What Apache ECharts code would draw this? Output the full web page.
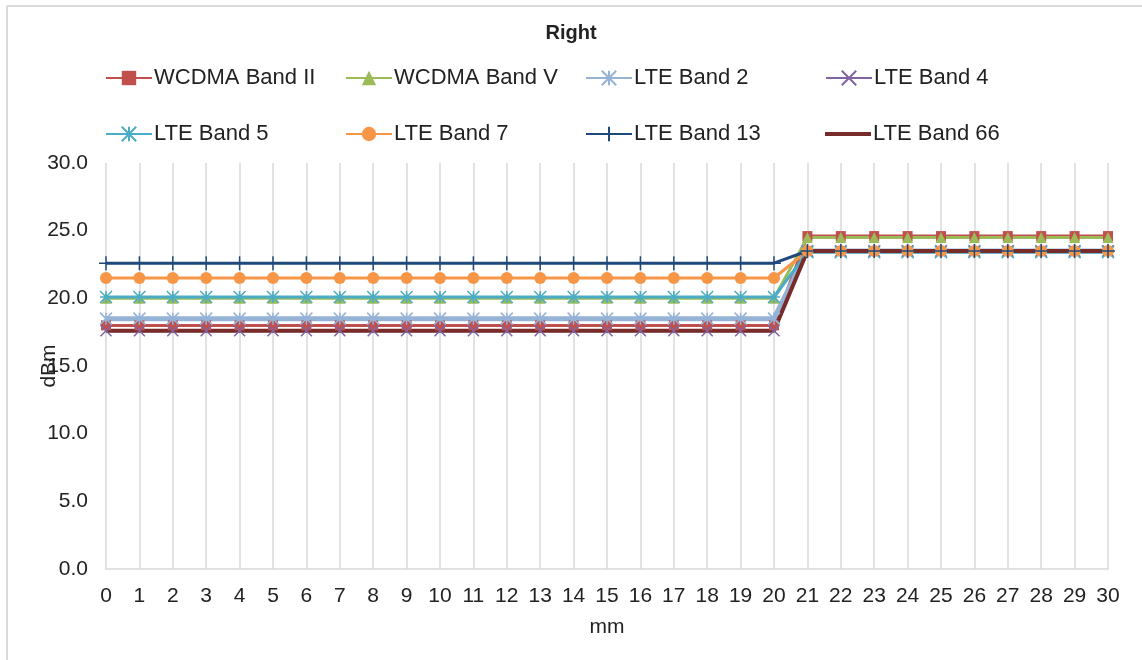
<!DOCTYPE html>
<html>
<head>
<meta charset="utf-8">
<script src="https://cdn.jsdelivr.net/npm/echarts@6/dist/echarts.min.js"></script>
<style>html,body{margin:0;padding:0;background:#fff;}#c{width:1142px;height:660px;}</style>
</head>
<body>
<div id="c"></div>
<script>
const categories = ['0','1','2','3','4','5','6','7','8','9','10','11','12','13','14','15','16','17','18','19','20','21','22','23','24','25','26','27','28','29','30'];
const yTicks = [0, 5, 10, 15, 20, 25, 30];
const seriesNames = ['WCDMA Band II','WCDMA Band V','LTE Band 2','LTE Band 4','LTE Band 5','LTE Band 7','LTE Band 13','LTE Band 66'];
const wcdmaBandII = [18.0,18.0,18.0,18.0,18.0,18.0,18.0,18.0,18.0,18.0,18.0,18.0,18.0,18.0,18.0,18.0,18.0,18.0,18.0,18.0,18.0,24.6,24.6,24.6,24.6,24.6,24.6,24.6,24.6,24.6,24.6];
const wcdmaBandV  = [20.0,20.0,20.0,20.0,20.0,20.0,20.0,20.0,20.0,20.0,20.0,20.0,20.0,20.0,20.0,20.0,20.0,20.0,20.0,20.0,20.0,24.5,24.5,24.5,24.5,24.5,24.5,24.5,24.5,24.5,24.5];
const lteBand2    = [18.5,18.5,18.5,18.5,18.5,18.5,18.5,18.5,18.5,18.5,18.5,18.5,18.5,18.5,18.5,18.5,18.5,18.5,18.5,18.5,18.5,23.5,23.5,23.5,23.5,23.5,23.5,23.5,23.5,23.5,23.5];
const lteBand4    = [17.6,17.6,17.6,17.6,17.6,17.6,17.6,17.6,17.6,17.6,17.6,17.6,17.6,17.6,17.6,17.6,17.6,17.6,17.6,17.6,17.6,23.5,23.5,23.5,23.5,23.5,23.5,23.5,23.5,23.5,23.5];
const lteBand5    = [20.1,20.1,20.1,20.1,20.1,20.1,20.1,20.1,20.1,20.1,20.1,20.1,20.1,20.1,20.1,20.1,20.1,20.1,20.1,20.1,20.1,23.4,23.4,23.4,23.4,23.4,23.4,23.4,23.4,23.4,23.4];
const lteBand7    = [21.5,21.5,21.5,21.5,21.5,21.5,21.5,21.5,21.5,21.5,21.5,21.5,21.5,21.5,21.5,21.5,21.5,21.5,21.5,21.5,21.5,23.5,23.5,23.5,23.5,23.5,23.5,23.5,23.5,23.5,23.5];
const lteBand13   = [22.6,22.6,22.6,22.6,22.6,22.6,22.6,22.6,22.6,22.6,22.6,22.6,22.6,22.6,22.6,22.6,22.6,22.6,22.6,22.6,22.6,23.5,23.5,23.5,23.5,23.5,23.5,23.5,23.5,23.5,23.5];
const lteBand66   = [17.6,17.6,17.6,17.6,17.6,17.6,17.6,17.6,17.6,17.6,17.6,17.6,17.6,17.6,17.6,17.6,17.6,17.6,17.6,17.6,17.6,23.5,23.5,23.5,23.5,23.5,23.5,23.5,23.5,23.5,23.5];

const FONT = '"Liberation Sans", Arial, sans-serif';
const X_PATH = 'path://M0 0L10 10M10 0L0 10';
const STAR_PATH = 'path://M0 0L10 10M10 0L0 10M5 0L5 10';
const ASTER_PATH = 'path://M0 0L10 10M10 0L0 10M5 0L5 10M0 5L10 5';
const PLUS_PATH = 'path://M5 0L5 10M1 5L9 5';

const styles = [
  {data: wcdmaBandII, color:'#C0504D', symbol:'rect', size:10, width:3, stroke:false},
  {data: wcdmaBandV,  color:'#9BBB59', symbol:'triangle', size:11, width:3, stroke:false},
  {data: lteBand2,    color:'#95B3D7', symbol:STAR_PATH, size:12, width:5, stroke:true},
  {data: lteBand4,    color:'#8064A2', symbol:X_PATH, size:11, width:3, stroke:true},
  {data: lteBand5,    color:'#4BACC6', symbol:ASTER_PATH, size:12, width:3, stroke:true},
  {data: lteBand7,    color:'#F79646', symbol:'circle', size:12, width:3, stroke:false},
  {data: lteBand13,   color:'#1F497D', symbol:PLUS_PATH, size:14, width:3, stroke:true},
  {data: lteBand66,   color:'#772C2A', symbol:'none', size:0, width:4, stroke:false}
];

const series = styles.map((s, i) => ({
  name: seriesNames[i],
  type: 'line',
  data: s.data,
  symbol: s.symbol,
  symbolSize: s.size,
  showAllSymbol: true,
  animation: false,
  lineStyle: {color: s.color, width: s.width},
  itemStyle: s.stroke ? {color: s.color, borderColor: s.color, borderWidth: 1.5} : {color: s.color},
  emphasis: {disabled: true}
}));

const colX = [105, 345, 585, 825];
const rowY = [77, 133];
const legends = seriesNames.map((n, i) => {
  const noMarker = styles[i].symbol === 'none';
  return {
    data: noMarker ? [{name: n, icon: 'rect'}] : [n],
    left: colX[i % 4],
    top: rowY[Math.floor(i / 4)] - 10,
    padding: 0,
    itemWidth: 46,
    itemHeight: noMarker ? 4 : 18,
    textStyle: {fontFamily: FONT, fontSize: 22, color: '#222', padding: [0, 0, 0, -3]},
    selectedMode: false
  };
});

const chart = echarts.init(document.getElementById('c'), null, {renderer: 'canvas'});
chart.setOption({
  backgroundColor: '#fff',
  animation: false,
  title: {
    text: 'Right', left: 'center', top: 18,
    textStyle: {fontFamily: FONT, fontSize: 20, fontWeight: 'bold', color: '#222'}
  },
  legend: legends,
  graphic: [
    {type: 'line', shape: {x1: 7, y1: 6, x2: 1142, y2: 6}, style: {stroke: '#d9d9d9', lineWidth: 2}},
    {type: 'line', shape: {x1: 7, y1: 6, x2: 7, y2: 660}, style: {stroke: '#d9d9d9', lineWidth: 2}}
  ],
  grid: {left: 106, right: 34, top: 163, bottom: 91, containLabel: false},
  xAxis: {
    type: 'category',
    data: categories,
    boundaryGap: false,
    name: 'mm',
    nameLocation: 'middle',
    nameGap: 48,
    nameMoveOverlap: false,
    nameTextStyle: {fontFamily: FONT, fontSize: 21, color: '#222'},
    axisLine: {show: true, lineStyle: {color: '#d9d9d9', width: 1.5}},
    axisTick: {show: false},
    axisLabel: {fontFamily: FONT, fontSize: 21, color: '#222', margin: 17, interval: 0},
    splitLine: {show: true, interval: 0, lineStyle: {color: '#d9d9d9', width: 1.5}}
  },
  yAxis: {
    type: 'value',
    min: yTicks[0],
    max: yTicks[yTicks.length - 1],
    interval: 5,
    name: 'dBm',
    nameLocation: 'middle',
    nameGap: 46,
    nameMoveOverlap: false,
    nameRotate: 90,
    nameTextStyle: {fontFamily: FONT, fontSize: 21, color: '#222'},
    axisLine: {show: false},
    axisTick: {show: false},
    splitLine: {show: false},
    axisLabel: {fontFamily: FONT, fontSize: 21, color: '#222', margin: 18, formatter: v => v.toFixed(1)}
  },
  series: series
});
</script>
</body>
</html>
